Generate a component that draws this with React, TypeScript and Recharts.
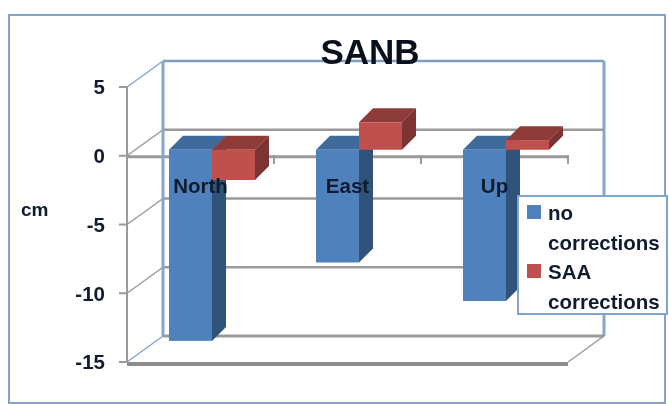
import { BarChart, Bar, XAxis, YAxis, CartesianGrid, Legend, ReferenceArea } from 'recharts'

const categories = ['North', 'East', 'Up']
const noCorrections = [-13.9, -8.2, -11]
const saaCorrections = [-2.2, 2, 0.7]
const yTicks = [5, 0, -5, -10, -15]

const chartData = categories.map((name, i) => ({
  name,
  noCorrections: noCorrections[i],
  saaCorrections: saaCorrections[i],
}))

const FONT = '"Liberation Sans", sans-serif'
const TEXT = '#111b2e'
const GRAY = '#9a9a9a'
const WALL = '#86a6cc'
const DEPTH_X = 36
const DEPTH_Y = 26

// bars sit part way into the box, so the faces are nudged off the front plane
const BAR_DX = 11
const BAR_DY = -6
const BAR_DEPTH = 14

function Bar3D(props: any) {
  const { x, y, width, height, face, top, side } = props
  const x0 = x + BAR_DX
  const y0 = Math.min(y, y + height) + BAR_DY
  const h = Math.abs(height)
  const d = BAR_DEPTH
  return (
    <g>
      <polygon points={`${x0},${y0} ${x0 + d},${y0 - d} ${x0 + width + d},${y0 - d} ${x0 + width},${y0}`} fill={top} />
      <polygon points={`${x0 + width},${y0} ${x0 + width + d},${y0 - d} ${x0 + width + d},${y0 + h - d} ${x0 + width},${y0 + h}`} fill={side} />
      <rect x={x0} y={y0} width={width} height={h} fill={face} />
    </g>
  )
}

// one tick of the box: back wall line, diagonal on the side wall
function GridLine(props: any) {
  const { x1, x2, y1 } = props
  const isTop = y1 < 90
  const isFloor = y1 > 350
  const isZero = y1 > 150 && y1 < 160
  const backColor = isTop ? '#7f9dc0' : GRAY
  return (
    <g>
      <line x1={x1 + DEPTH_X} x2={x2 + DEPTH_X} y1={y1 - DEPTH_Y} y2={y1 - DEPTH_Y} stroke={backColor} strokeWidth={isFloor ? 3 : 2.5} />
      <line x1={x1} x2={x1 + DEPTH_X} y1={y1} y2={y1 - DEPTH_Y} stroke={isTop || isFloor ? WALL : GRAY} strokeWidth={1.5} />
      {isZero && <line x1={x1} x2={x2} y1={y1 + 1} y2={y1 + 1} stroke={GRAY} strokeWidth={3} />}
      {isFloor && <line x1={x1} x2={x2} y1={y1 + 2} y2={y1 + 2} stroke="#8c8c8c" strokeWidth={4} />}
      {isFloor && <line x1={x2} x2={x2 + DEPTH_X} y1={y1} y2={y1 - DEPTH_Y} stroke={GRAY} strokeWidth={1.5} />}
    </g>
  )
}

function WallShape(props: any) {
  const { x, y, width, height } = props
  return (
    <g>
      <line x1={x + DEPTH_X} x2={x + DEPTH_X} y1={y - DEPTH_Y} y2={y + height - DEPTH_Y} stroke={WALL} strokeWidth={3} />
      <line x1={x + width + DEPTH_X} x2={x + width + DEPTH_X} y1={y - DEPTH_Y} y2={y + height - DEPTH_Y} stroke={WALL} strokeWidth={3} />
    </g>
  )
}

function CategoryTick(props: any) {
  const { x, y, payload } = props
  const tickX = x + 73.5
  return (
    <g>
      <line x1={tickX} x2={tickX} y1={y - 215} y2={y - 206} stroke={GRAY} strokeWidth={2} />
      <text x={x} y={y - 177} textAnchor="middle" fontFamily={FONT} fontWeight="bold" fontSize={20.5} fill={TEXT}>
        {payload.value}
      </text>
    </g>
  )
}

function LegendBox({ payload }: any) {
  return (
    <div style={{ boxSizing: 'border-box', width: 151, height: 120, padding: '1px 0 0 8px', background: '#fff', border: '2px solid #7ea3cf', fontFamily: FONT, fontWeight: 'bold', fontSize: 20.5, lineHeight: '29.5px', color: TEXT, textAlign: 'left' }}>
      {(payload || []).map((entry: any) => (
        <div key={entry.value} style={{ position: 'relative', paddingLeft: 21, width: 125 }}>
          <span style={{ position: 'absolute', left: 0, top: 7, width: 14, height: 14, background: entry.color }} />
          {entry.value}
        </div>
      ))}
    </div>
  )
}

export default function App() {
  return (
    <div style={{ position: 'absolute', left: 0, top: 0, width: 669, height: 404, background: '#fff', overflow: 'hidden', filter: 'blur(0.5px)' }}>
      <div style={{ position: 'absolute', left: 8, top: 14, width: 658, height: 390, border: '2px solid #7ea3cf', boxSizing: 'border-box' }} />
      <div style={{ position: 'absolute', left: 0, top: 0 }}>
        <BarChart
          width={669}
          height={404}
          data={chartData}
          margin={{ top: 87, right: 101, bottom: 12, left: 20 }}
          barSize={43}
          barGap={0}
        >
          <CartesianGrid vertical={false} horizontal={(p: any) => <GridLine key={p.key} {...p} />} />
          <ReferenceArea y1={-15} y2={5} shape={<WallShape />} ifOverflow="visible" />
          <XAxis dataKey="name" axisLine={false} tickLine={false} height={30} tick={<CategoryTick />} interval={0} />
          <YAxis
            width={107}
            domain={[-15, 5]}
            ticks={yTicks}
            interval={0}
            tickSize={8}
            tickMargin={14}
            axisLine={{ stroke: GRAY, strokeWidth: 2 }}
            tickLine={{ stroke: GRAY, strokeWidth: 2 }}
            tick={{ fontFamily: FONT, fontWeight: 'bold', fontSize: 20.5, fill: TEXT }}
            label={{ value: 'cm', position: 'insideLeft', dy: -15, offset: 1, style: { fontFamily: FONT, fontWeight: 'bold', fontSize: 19, fill: TEXT } }}
          />
          <Bar dataKey="noCorrections" name="no corrections" fill="#4f81bd" isAnimationActive={false} shape={<Bar3D face="#4f81bd" top="#3f6b9c" side="#30537a" />} />
          <Bar dataKey="saaCorrections" name="SAA corrections" fill="#c0504d" isAnimationActive={false} shape={<Bar3D face="#c0504d" top="#8f3b39" side="#7c3331" />} />
          <Legend
            content={<LegendBox />}
            itemSorter={null}
            layout="horizontal"
            align="center"
            verticalAlign="middle"
            wrapperStyle={{ left: 517, top: 195, width: 151, height: 120 }}
          />
          <text x={370} y={64} textAnchor="middle" fontFamily={FONT} fontWeight="bold" fontSize={35} fill="#0a0f1c">
            SANB
          </text>
        </BarChart>
      </div>
    </div>
  )
}
